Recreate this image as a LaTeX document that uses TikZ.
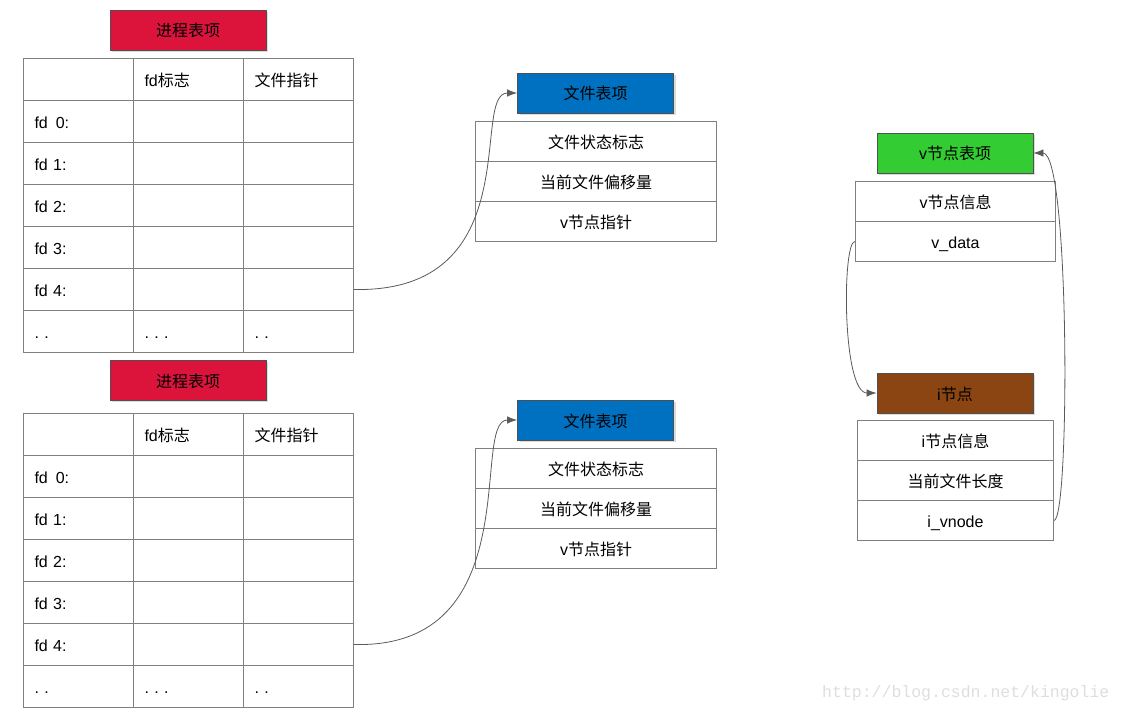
\documentclass[tikz,border=0pt]{standalone}
\usepackage{fontspec}
\setmainfont{Liberation Sans}
\newfontfamily\cjk{Noto Sans CJK SC}
\newfontfamily\wmfont{Liberation Mono}
\usetikzlibrary{arrows.meta,shadows}
\definecolor{procred}{RGB}{220,20,60}
\definecolor{fileblue}{RGB}{0,112,192}
\definecolor{vgreen}{RGB}{51,204,51}
\definecolor{ibrown}{RGB}{139,69,19}
\definecolor{headborder}{RGB}{80,80,80}
\definecolor{cellgray}{RGB}{128,128,128}
\definecolor{linkgray}{RGB}{90,90,90}
\definecolor{wmgray}{RGB}{222,222,222}

\begin{document}
\begin{tikzpicture}[
		x=1pt, y=-1pt,
		every node/.style={font=\fontsize{16}{19}\selectfont, text height=14pt, text depth=0pt},
		header/.style={
			draw=headborder,
			line width=0.8pt,
			minimum width=156pt,
			minimum height=40pt,
			inner sep=0pt,
			drop shadow={shadow xshift=2pt, shadow yshift=-2pt, fill=black!20, opacity=0.7}
		},
		cell/.style={
			draw=cellgray,
			line width=1pt,
			anchor=north west,
			minimum height=42pt,
			text width=88pt,
			inner xsep=11pt,
			inner ysep=0pt,
			align=left
		},
		field/.style={
			draw=cellgray,
			line width=1pt,
			anchor=north west,
			minimum height=40pt,
			inner sep=0pt,
			align=center
		},
		link/.style={draw=linkgray, line width=0.8pt, -{Latex[length=10pt,width=7.5pt]}}
		]
		
		\useasboundingbox (0,0) rectangle (1123,711);
		
		% process tables
		\foreach \tb/\y/\hy in {a/58/30, b/413/380} {
			\node[header, fill=procred] (proc\tb) at (188, \hy) {\cjk 进程表项};
			\foreach \ca/\cb/\cc [count=\row from 0] in {{}/{fd{\cjk 标志}}/{\cjk 文件指针}, {fd\ \,0:}/{}/{}, {fd 1:}/{}/{}, {fd 2:}/{}/{}, {fd 3:}/{}/{}, {fd 4:}/{}/{}, {.\,\,.}/{.\,\,.\,\,.}/{.\,\,.}} {
				\node[cell] (\tb r\row c0) at (23, \y+42*\row) {\ca};
				\node[cell] (\tb r\row c1) at (133, \y+42*\row) {\cb};
				\node[cell] (\tb r\row c2) at (243, \y+42*\row) {\cc};
			}
		}
		
		% file tables
		\foreach \tb/\y in {a/121, b/448} {
			\node[header, fill=fileblue] (file\tb) at (595.5, \y-28) {\cjk 文件表项};
			\foreach \txt [count=\row from 0] in {{\cjk 文件状态标志}, {\cjk 当前文件偏移量}, {v{\cjk 节点指针}}} {
				\node[field, minimum width=241pt] (file\tb f\row) at (475, \y+40*\row) {\txt};
			}
		}
		
		% v-node
		\node[header, fill=vgreen] (vhead) at (955, 153) {v{\cjk 节点表项}};
		\node[field, minimum width=200pt] (vinfo) at (855, 181) {v{\cjk 节点信息}};
		\node[field, minimum width=200pt] (vdata) at (855, 221) {v\_data};
		
		% i-node
		\node[header, fill=ibrown] (ihead) at (955, 393) {i{\cjk 节点}};
		\node[field, minimum width=196pt] (iinfo) at (857, 420) {i{\cjk 节点信息}};
		\node[field, minimum width=196pt] (ilen) at (857, 460) {\cjk 当前文件长度};
		\node[field, minimum width=196pt] (ivnode) at (857, 500) {i\_vnode};
		
		% links
		\draw[link] (ar5c2.east) .. controls (530,293) and (470,93) .. (filea.west);
		\draw[link] (br5c2.east) .. controls (530,649) and (470,420) .. (fileb.west);
		\draw[link] (vdata.west) .. controls (842,241) and (842,393) .. (ihead.west);
		\draw[link] (ivnode.east) .. controls (1070,520) and (1070,153) .. (vhead.east);
		
		\node[font=\wmfont\fontsize{16.5}{18}\selectfont, text=wmgray, anchor=west, inner sep=0pt] (watermark) at (822, 690) {http://blog.csdn.net/kingolie};
		
	\end{tikzpicture}
\end{document}
